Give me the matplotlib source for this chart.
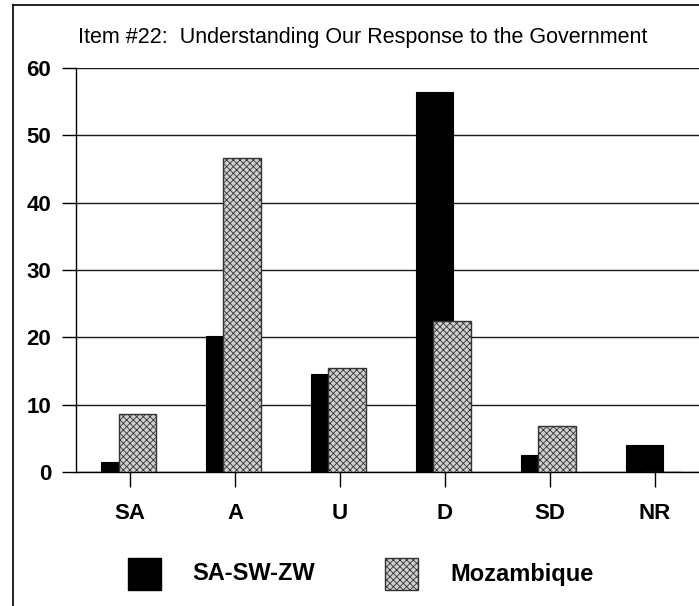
import numpy as np
import matplotlib
matplotlib.use("Agg")
import matplotlib.pyplot as plt
from matplotlib.patches import Rectangle
from matplotlib.lines import Line2D

categories = ["SA", "A", "U", "D", "SD", "NR"]
sa_sw_zw = [1.5, 20.2, 14.6, 56.5, 2.5, 4.0]
mozambique = [8.6, 46.6, 15.5, 22.5, 6.8, 0.0]
series_names = ["SA-SW-ZW", "Mozambique"]
title = "Item #22:  Understanding Our Response to the Government"

plt.rcParams['font.family'] = ['Liberation Sans', 'DejaVu Sans']
plt.rcParams['hatch.linewidth'] = 0.6

W, H = 699, 606
fig = plt.figure(figsize=(W / 100, H / 100), dpi=100)
ax = fig.add_axes([76 / W, 1 - 472 / H, 1 - 76 / W, (472 - 68) / H])

x = np.arange(len(categories))
w = 0.36
ax.bar(x - 0.10, sa_sw_zw, w, color="black", edgecolor="black", linewidth=0.8, zorder=3)
ax.bar(x + 0.07, mozambique, w, color="#cfcfcf", edgecolor="#333333",
       hatch="xxxxx", linewidth=1.0, zorder=4)

ax.set_xlim(-0.515, 5.42)
ax.set_ylim(0, 60)
ax.set_yticks(range(0, 61, 10))
ax.set_xticks(x)
ax.set_xticklabels(categories)
ax.grid(axis="y", color="#1a1a1a", linewidth=1.0, zorder=0)
for s in ["top", "right"]:
    ax.spines[s].set_visible(False)
ax.spines["left"].set_linewidth(1.0)
ax.spines["bottom"].set_linewidth(1.0)
ax.tick_params(axis="y", direction="out", length=10, width=1.0, pad=8,
               labelsize=16)
ax.tick_params(axis="x", direction="out", length=11, width=1.0, pad=11,
               labelsize=16)
for lab in ax.get_yticklabels() + ax.get_xticklabels():
    lab.set_fontweight("bold")

fig.text(363 / W, 1 - 43 / H, title, ha="center", va="baseline", fontsize=15.5)

# legend, laid out by hand like the original
fills = [dict(facecolor="black", edgecolor="black"),
         dict(facecolor="#cfcfcf", edgecolor="#333333", hatch="xxxxx")]
box_x = [128, 385]
text_x = [192, 450]
for name, style, bx, tx in zip(series_names, fills, box_x, text_x):
    fig.add_artist(Rectangle((bx / W, 1 - 590 / H), 33 / W, 32 / H,
                             transform=fig.transFigure, linewidth=1.0, **style))
    fig.text(tx / W, 1 - 574 / H, name, ha="left", va="center",
             fontsize=17, fontweight="bold")

# outer frame of the scanned chart
fig.add_artist(Line2D([13 / W, 13 / W], [0.0, 1 - 5 / H], color="black",
                      linewidth=1.2, transform=fig.transFigure))
fig.add_artist(Line2D([13 / W, 1.0], [1 - 5 / H, 1 - 5 / H], color="black",
                      linewidth=1.2, transform=fig.transFigure))

fig.savefig("out.png", dpi=100)
